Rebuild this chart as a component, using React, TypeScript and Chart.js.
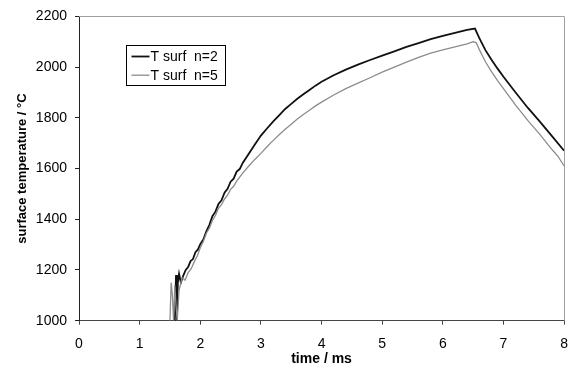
import React, { useEffect, useRef } from "react";
import { Chart, registerables } from "chart.js";

Chart.register(...registerables);

// time / ms and surface temperature / °C, n = 2
const timeN2 = [1.58, 1.6, 1.615, 1.63, 1.65, 1.68, 1.72, 1.76, 1.8, 1.84, 1.88, 1.92, 1.96, 2.0, 2.05, 2.1, 2.15, 2.2, 2.25, 2.3, 2.35, 2.4, 2.45, 2.5, 2.55, 2.6, 2.65, 2.7, 2.8, 2.9, 3.0, 3.1, 3.2, 3.3, 3.4, 3.5, 3.6, 3.7, 3.8, 3.9, 4.0, 4.2, 4.4, 4.6, 4.8, 5.0, 5.2, 5.4, 5.6, 5.8, 6.0, 6.2, 6.4, 6.53, 6.6, 6.7, 6.8, 6.9, 7.0, 7.2, 7.4, 7.6, 7.8, 8.0];
const tempN2 = [1000, 1180, 1000, 1150, 1185, 1150, 1178, 1200, 1212, 1235, 1243, 1270, 1280, 1302, 1320, 1352, 1378, 1412, 1430, 1460, 1475, 1505, 1520, 1548, 1560, 1588, 1598, 1622, 1658, 1695, 1730, 1758, 1785, 1810, 1835, 1855, 1875, 1893, 1910, 1927, 1942, 1968, 1990, 2010, 2028, 2045, 2062, 2080, 2095, 2110, 2123, 2135, 2147, 2152, 2115, 2068, 2030, 1995, 1962, 1900, 1840, 1785, 1728, 1670];

// time / ms and surface temperature / °C, n = 5
const timeN5 = [1.5, 1.52, 1.54, 1.56, 1.58, 1.6, 1.62, 1.65, 1.7, 1.75, 1.8, 1.85, 1.9, 1.95, 2.0, 2.05, 2.1, 2.15, 2.2, 2.25, 2.3, 2.35, 2.4, 2.45, 2.5, 2.55, 2.6, 2.7, 2.8, 2.9, 3.0, 3.1, 3.2, 3.3, 3.4, 3.5, 3.6, 3.7, 3.8, 3.9, 4.0, 4.2, 4.4, 4.6, 4.8, 5.0, 5.2, 5.4, 5.6, 5.8, 6.0, 6.2, 6.4, 6.5, 6.55, 6.6, 6.7, 6.8, 6.9, 7.0, 7.2, 7.4, 7.6, 7.8, 7.9, 8.0];
const tempN5 = [1000, 1150, 1100, 1000, 1140, 1060, 1000, 1120, 1170, 1160, 1190, 1205, 1232, 1255, 1288, 1312, 1345, 1365, 1395, 1415, 1443, 1458, 1480, 1495, 1518, 1530, 1550, 1582, 1610, 1636, 1660, 1686, 1710, 1733, 1755, 1775, 1795, 1813, 1830, 1847, 1862, 1890, 1915, 1937, 1958, 1980, 2000, 2020, 2038, 2055, 2068, 2080, 2092, 2100, 2097, 2070, 2022, 1983, 1948, 1915, 1850, 1790, 1735, 1675, 1648, 1610];

const seriesLabels = ["T surf  n=2", "T surf  n=5"];
const seriesColors = ["#111111", "#8c8c8c"];
const xTitle = "time / ms";
const yTitle = "surface temperature / °C";

const FONT = "'Liberation Sans', Arial, sans-serif";

const framePlugin = {
  id: "frameLegend",
  afterDatasetsDraw(chart: any) {
    const { ctx, chartArea: a } = chart;
    ctx.save();
    // top and right frame
    ctx.strokeStyle = "#a0a0a0";
    ctx.lineWidth = 1;
    ctx.beginPath();
    ctx.moveTo(a.left, Math.round(a.top) + 0.5);
    ctx.lineTo(Math.round(a.right) + 0.5, Math.round(a.top) + 0.5);
    ctx.lineTo(Math.round(a.right) + 0.5, a.bottom);
    ctx.stroke();

    // legend box
    const bx = Math.round(a.left + 47) + 0.5;
    const by = Math.round(a.top + 28.6) + 0.5;
    const bw = 99;
    const bh = 40;
    ctx.fillStyle = "#ffffff";
    ctx.fillRect(bx, by, bw, bh);
    ctx.strokeStyle = "#000000";
    ctx.lineWidth = 1;
    ctx.strokeRect(bx, by, bw, bh);
    ctx.font = `14px ${FONT}`;
    ctx.textBaseline = "middle";
    ctx.textAlign = "left";
    seriesLabels.forEach((lab, i) => {
      const cy = by + 11 + i * 18.7;
      ctx.strokeStyle = seriesColors[i];
      ctx.lineWidth = i === 0 ? 1.8 : 1.3;
      ctx.beginPath();
      ctx.moveTo(bx + 5, cy);
      ctx.lineTo(bx + 23, cy);
      ctx.stroke();
      ctx.fillStyle = "#000";
      ctx.fillText(lab, bx + 24, cy + 0.5);
    });
    ctx.restore();
  },
};

export default function App() {
  const ref = useRef<HTMLCanvasElement | null>(null);

  useEffect(() => {
    document.body.style.margin = "0";
    if (!ref.current) return;
    Chart.defaults.color = "#000";
    const chart = new Chart(ref.current, {
      type: "line",
      data: {
        datasets: [
          {
            label: seriesLabels[1],
            data: timeN5.map((t, i) => ({ x: t, y: tempN5[i] })),
            borderColor: seriesColors[1],
            borderWidth: 1.3,
            pointRadius: 0,
            tension: 0,
            fill: false,
          },
          {
            label: seriesLabels[0],
            data: timeN2.map((t, i) => ({ x: t, y: tempN2[i] })),
            borderColor: seriesColors[0],
            borderWidth: 1.8,
            pointRadius: 0,
            tension: 0,
            fill: false,
          },
        ],
      },
      options: {
        animation: false,
        responsive: false,
        maintainAspectRatio: false,
        layout: { padding: { left: 0, right: 10.7, top: 14.7, bottom: 0 } },
        plugins: { legend: { display: false }, tooltip: { enabled: false } },
        scales: {
          x: {
            type: "linear",
            min: 0,
            max: 8,
            ticks: { stepSize: 1, padding: 11, font: { family: FONT, size: 14 }, color: "#000", callback: (v: any) => String(v) },
            grid: { display: true, drawOnChartArea: false, drawTicks: true, tickLength: 4, color: "#444" },
            border: { display: true, color: "#444", width: 1 },
            title: { display: true, text: xTitle, font: { family: FONT, size: 14, weight: "bold" }, color: "#000", padding: { top: 0, bottom: 0.8 } },
            afterFit: (s: any) => { s.height = 47.3; },
          },
          y: {
            type: "linear",
            min: 1000,
            max: 2200,
            ticks: { stepSize: 200, padding: 8, font: { family: FONT, size: 14 }, color: "#000", callback: (v: any) => String(v) },
            grid: { display: true, drawOnChartArea: false, drawTicks: true, tickLength: 4, color: "#222" },
            border: { display: true, color: "#222", width: 1 },
            title: { display: true, text: yTitle, font: { family: FONT, size: 13, weight: "bold" }, color: "#000", padding: { top: 14.2, bottom: 0 } },
            afterFit: (s: any) => { s.width = 79; },
          },
        },
      },
      plugins: [framePlugin],
    });
    return () => chart.destroy();
  }, []);

  return <canvas ref={ref} width={579} height={368} style={{ display: "block" }} />;
}
